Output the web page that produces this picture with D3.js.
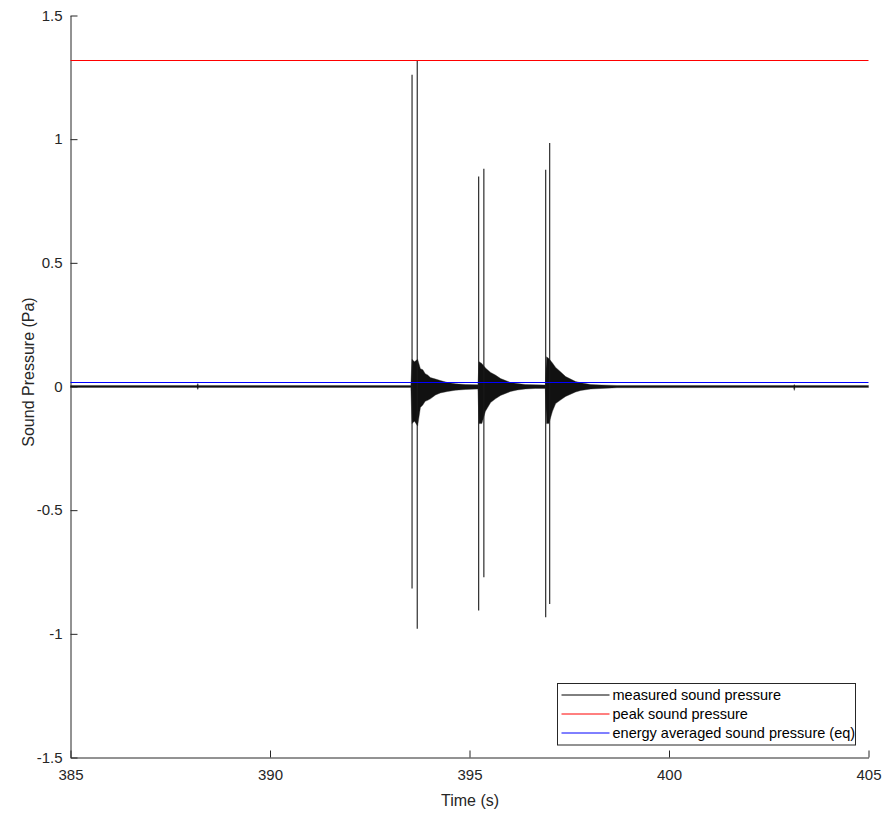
<!DOCTYPE html>
<html>
<head>
<meta charset="utf-8">
<script src="https://cdn.jsdelivr.net/npm/d3@7"></script>
<style>
    body { margin: 0; background: #fff; }
    text { font-family: "Liberation Sans", Arial, Helvetica, sans-serif; }
</style>
</head>
<body>
<script>
'use strict';

// tick labels
const xTicks = [385, 390, 395, 400, 405];
const yTicks = [-1.5, -1, -0.5, 0, 0.5, 1, 1.5];

// impulse peaks (s, Pa)
const spikeTime = [393.56, 393.69, 395.23, 395.36, 396.91, 397.01];
const spikeHigh = [1.26, 1.318, 0.849, 0.88, 0.876, 0.984];
const spikeLow = [-0.817, -0.979, -0.906, -0.771, -0.933, -0.879];

// envelope of the measured signal
const envTime = [385.0, 388.17, 388.19, 388.21, 393.53, 393.56, 393.62, 393.70, 393.77, 393.83,
    393.89, 393.95, 394.02, 394.15, 394.27, 394.45, 394.65, 394.90, 395.21, 395.24,
    395.31, 395.40, 395.53, 395.65, 395.78, 396.03, 396.20, 396.40, 396.65, 396.90,
    396.93, 396.99, 397.08, 397.16, 397.28, 397.41, 397.66, 397.79, 398.04, 398.30,
    398.70, 403.12, 403.14, 403.16, 405.0];
const envHigh = [0.004, 0.004, 0.012, 0.004, 0.004, 0.11, 0.10, 0.11, 0.072, 0.068,
    0.052, 0.047, 0.036, 0.03, 0.024, 0.016, 0.011, 0.008, 0.007, 0.10,
    0.093, 0.075, 0.057, 0.046, 0.032, 0.016, 0.012, 0.008, 0.007, 0.006,
    0.12, 0.113, 0.095, 0.077, 0.06, 0.04, 0.02, 0.015, 0.008, 0.006,
    0.004, 0.004, 0.008, 0.004, 0.004];
const envLow = [-0.004, -0.004, -0.012, -0.004, -0.004, -0.15, -0.14, -0.16, -0.085, -0.075,
    -0.06, -0.056, -0.05, -0.034, -0.026, -0.02, -0.015, -0.012, -0.010, -0.15,
    -0.15, -0.10, -0.065, -0.05, -0.036, -0.02, -0.014, -0.01, -0.008, -0.008,
    -0.15, -0.15, -0.10, -0.069, -0.055, -0.04, -0.022, -0.016, -0.01, -0.008,
    -0.005, -0.004, -0.016, -0.004, -0.004];

const peakLevel = 1.32;
const eqLevel = 0.017;

const legendNames = ["measured sound pressure", "peak sound pressure", "energy averaged sound pressure (eq)"];
const legendColors = ["#000000", "#ff0000", "#0000ff"];

(function () {

    let svg = "";
    const axisColor = "#262626";

    window.onload = function () {
        svg = d3.select('body')
            .append('svg')
            .attr('width', 885)
            .attr('height', 814);

        let map = drawAxes();
        plotData(map);
        makeLabels();
        makeLegend();
    }

    // axes with inward ticks, matlab style
    function drawAxes() {
        let xScale = d3.scaleLinear()
            .domain([385, 405])
            .range([70.5, 868.5]);

        let yScale = d3.scaleLinear()
            .domain([-1.5, 1.5])
            .range([757.5, 15.5]);

        let xAxis = d3.axisBottom(xScale)
            .tickValues(xTicks)
            .tickFormat((d) => String(d))
            .tickSizeInner(-7)
            .tickSizeOuter(0)
            .tickPadding(12);

        let yAxis = d3.axisLeft(yScale)
            .tickValues(yTicks)
            .tickFormat((d) => String(d))
            .tickSizeInner(-7)
            .tickSizeOuter(0)
            .tickPadding(8);

        let gx = svg.append('g')
            .attr('transform', 'translate(0, 757.5)')
            .call(xAxis);

        let gy = svg.append('g')
            .attr('transform', 'translate(70.5, 0)')
            .call(yAxis);

        [gx, gy].forEach((g) => {
            g.select('.domain').attr('stroke', axisColor);
            g.selectAll('.tick line').attr('stroke', axisColor);
            g.selectAll('.tick text')
                .attr('fill', axisColor)
                .style('font-size', '15px')
                .style('font-family', '"Liberation Sans", Arial, sans-serif');
        });

        return { x: xScale, y: yScale };
    }

    // plot signal, peak and eq lines
    function plotData(map) {
        let x = map.x;
        let y = map.y;
        let snap = (v) => Math.round(v - 0.5) + 0.5;

        let env = envTime.map((t, i) => ({ t: t, hi: envHigh[i], lo: envLow[i] }));

        let area = d3.area()
            .x((d) => x(d.t))
            .y0((d) => y(d.lo))
            .y1((d) => y(d.hi));

        svg.append('path')
            .datum(env)
            .attr('d', area)
            .attr('fill', '#111')
            .attr('stroke', '#333')
            .attr('stroke-width', 0.4);

        let spikes = spikeTime.map((t, i) => ({ t: t, hi: spikeHigh[i], lo: spikeLow[i] }));

        svg.selectAll('.spike')
            .data(spikes)
            .enter()
            .append('line')
            .attr('class', 'spike')
            .attr('x1', (d) => x(d.t))
            .attr('x2', (d) => x(d.t))
            .attr('y1', (d) => y(d.lo))
            .attr('y2', (d) => y(d.hi))
            .attr('stroke', '#1a1a1a')
            .attr('stroke-width', 1.1);

        svg.append('line')
            .attr('x1', x(385))
            .attr('x2', x(405))
            .attr('y1', snap(y(peakLevel)))
            .attr('y2', snap(y(peakLevel)))
            .attr('stroke', '#ff0000')
            .attr('stroke-width', 1);

        svg.append('line')
            .attr('x1', x(385))
            .attr('x2', x(405))
            .attr('y1', snap(y(eqLevel)))
            .attr('y2', snap(y(eqLevel)))
            .attr('stroke', '#0000ff')
            .attr('stroke-width', 1);
    }

    // axis titles
    function makeLabels() {
        svg.append('text')
            .attr('x', 470)
            .attr('y', 806)
            .attr('text-anchor', 'middle')
            .attr('fill', axisColor)
            .style('font-size', '16px')
            .text('Time (s)');

        svg.append('text')
            .attr('transform', 'translate(34, 372)rotate(-90)')
            .attr('text-anchor', 'middle')
            .attr('fill', axisColor)
            .style('font-size', '16px')
            .text('Sound Pressure (Pa)');
    }

    function makeLegend() {
        let lg = svg.append('g')
            .attr('transform', 'translate(557.5, 683.5)');

        lg.append('rect')
            .attr('width', 298)
            .attr('height', 61.5)
            .attr('fill', '#fff')
            .attr('stroke', axisColor)
            .attr('stroke-width', 1);

        let rows = lg.selectAll('.row')
            .data(legendNames)
            .enter()
            .append('g')
            .attr('transform', (d, i) => 'translate(0,' + (11.5 + i * 19) + ')');

        rows.append('line')
            .attr('x1', 4)
            .attr('x2', 52)
            .attr('stroke', (d, i) => legendColors[i])
            .attr('stroke-width', 1);

        rows.append('text')
            .attr('x', 55)
            .attr('dy', '0.35em')
            .attr('fill', '#000')
            .style('font-size', '14.5px')
            .text((d) => d);
    }

})();
</script>
</body>
</html>
